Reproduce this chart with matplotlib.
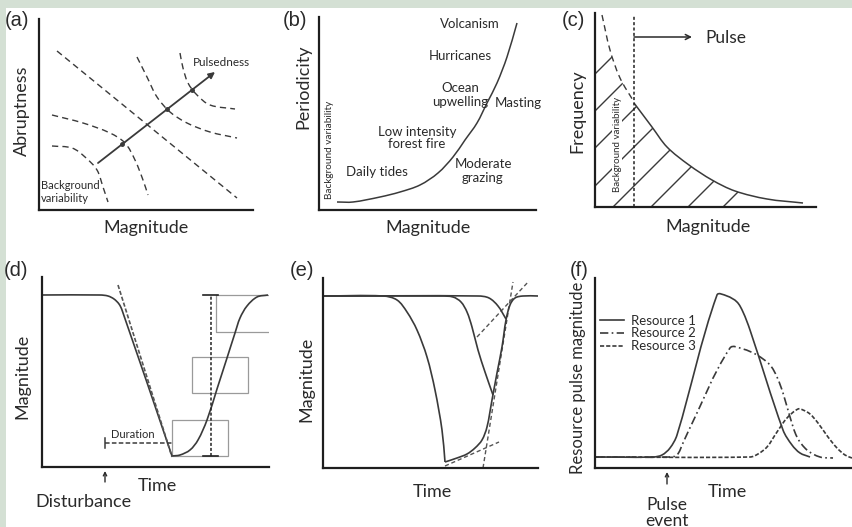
import numpy as np
import matplotlib
matplotlib.use("Agg")
import matplotlib.pyplot as plt
from matplotlib.path import Path
from matplotlib.patches import PathPatch, Rectangle
from matplotlib.lines import Line2D

# ---------------- data (each panel in its own units) ----------------
# (a) iso-pulsedness contours and pulsedness arrow
a_iso_1 = [(18, 159), (198, 12)]
a_iso_2 = [(13, 95), (44, 87), (71, 77), (86, 67), (96, 50), (104, 30), (109, 15)]
a_iso_3 = [(13, 64), (33, 62), (46, 53), (58, 40), (64, 23), (69, 8)]
a_iso_4 = [(98, 153), (108, 133), (118, 113), (131, 98), (148, 87), (171, 78), (198, 72)]
a_iso_5 = [(141, 157), (144, 142), (149, 127), (158, 115), (171, 105), (196, 101)]
a_arrow_start = (59, 47)
a_arrow_end = (176, 138)
a_dots_x = [83, 128, 153]
a_dots_y = [66, 101, 120]

# (b) periodicity vs magnitude curve and event labels
b_curve = [(18, 8), (34, 8), (61, 13), (81, 18), (101, 25), (119, 37), (134, 53),
           (146, 70), (158, 87), (168, 107), (178, 127), (188, 153), (198, 187)]
b_events = ["Volcanism", "Hurricanes", "Ocean\nupwelling", "Masting",
            "Low intensity\nforest fire", "Daily tides", "Moderate\ngrazing"]
b_event_x = [151, 141, 141, 199, 98, 58, 164]
b_event_y = [186, 154, 115, 107, 72, 38, 39]

# (c) frequency-magnitude distribution
c_background = [(7, 192), (15, 157), (25, 129), (39, 105)]
c_pulse = [(39, 104), (57, 80), (72, 60), (94, 42), (117, 27), (140, 16), (172, 8), (208, 4)]
c_threshold = 39
c_threshold_top = 192
c_hatch_offsets = [-133, -96, -59, -21, 18, 56, 93, 128]

# (d) disturbance trajectory
d_fall = [(0, 172), (58, 172), (66, 171), (72, 168), (77, 163), (80, 157), (130, 11)]
d_rise = [(130, 11), (138, 12), (148, 17), (156, 27), (165, 47), (175, 78), (185, 109),
          (193, 134), (198, 149), (205, 161), (215, 170), (226, 172)]
d_tangent = [(76, 182), (130, 10)]
d_duration = [(63, 24), (130, 24)]
d_amp_x = 169
d_amp_range = (11, 172)
d_boxes = [(130, 11, 56, 36), (150, 74, 56, 36)]   # x, y, w, h
d_bracket = [(226, 172), (174, 172), (174, 135), (226, 135)]
d_disturbance_x = 63

# (e) three declines sharing one recovery
e_decline_1 = [(0, 172), (60, 172), (74, 168), (84, 156), (94, 138), (104, 111),
               (112, 78), (119, 38), (122, 6)]
e_recovery = [(122, 6), (134, 10), (144, 14), (152, 20), (159, 28), (164, 41), (169, 68),
              (174, 95), (179, 121), (183, 148), (187, 163), (192, 170), (200, 172), (215, 172)]
e_decline_2 = [(0, 172), (118, 172), (130, 171), (138, 166), (144, 156), (149, 141),
               (155, 118), (162, 96), (170, 73)]
e_decline_3 = [(0, 172), (155, 172), (166, 170), (175, 162), (183, 149)]
e_tangents = [[(122, 2), (176, 26)], [(160, 0), (190, 186)], [(154, 131), (206, 187)]]

# (f) resource pulses
f_labels = ["Resource 1", "Resource 2", "Resource 3"]
f_r1 = [(0, 11), (58, 11), (67, 13), (75, 20), (82, 33), (122, 173), (132, 172), (142, 166),
        (148, 156), (155, 138), (188, 38), (197, 23), (205, 15), (215, 11)]
f_r2 = [(0, 11), (75, 11), (82, 13), (88, 25), (93, 36), (135, 120), (148, 119), (162, 113),
        (175, 103), (182, 91), (188, 75), (195, 51), (202, 31), (212, 18), (225, 11), (238, 10)]
f_r3 = [(0, 11), (155, 11), (163, 14), (172, 21), (182, 36), (192, 50), (203, 59), (208, 58),
        (215, 54), (223, 45), (233, 31), (242, 20), (250, 13), (257, 10)]
f_pulse_x = 72

# ---------------- layout ----------------
W, H = 852, 527
plt.rcParams['font.family'] = ['Lato', 'DejaVu Sans']
INK = '#2a2a2a'
LINE = '#3a3a3a'

fig = plt.figure(figsize=(W / 100, H / 100), dpi=100, facecolor='white')

# light green page border (top and left)
fig.patches.append(Rectangle((0, 1 - 8 / H), 1, 8 / H, transform=fig.transFigure,
                             fc='#d4e0d4', ec='none', zorder=0))
fig.patches.append(Rectangle((0, 0), 6 / W, 1, transform=fig.transFigure,
                             fc='#d4e0d4', ec='none', zorder=0))

PANELS = {
    'a': (39, 19, 253, 210),
    'b': (319, 17, 536, 210),
    'c': (595, 13, 816, 207),
    'd': (42, 277, 269, 467),
    'e': (323, 278, 538, 468),
    'f': (595, 278, 852, 468),
}


def make_ax(key):
    l, t, r, b = PANELS[key]
    ax = fig.add_axes([l / W, 1 - b / H, (r - l) / W, (b - t) / H])
    ax.set_xlim(0, r - l)
    ax.set_ylim(0, b - t)
    ax.patch.set_visible(False)
    for s in ('top', 'right'):
        ax.spines[s].set_visible(False)
    for s in ('left', 'bottom'):
        ax.spines[s].set_linewidth(1.6)
        ax.spines[s].set_color('#1e1e1e')
    ax.set_xticks([])
    ax.set_yticks([])
    return ax


def smooth(pts):
    p = np.asarray(pts, float)
    n = len(p)
    if n == 2:
        return Path(p, [Path.MOVETO, Path.LINETO])
    tang = np.zeros_like(p)
    tang[0] = p[1] - p[0]
    tang[-1] = p[-1] - p[-2]
    tang[1:-1] = p[2:] - p[:-2]
    tang /= np.linalg.norm(tang, axis=1)[:, None]
    verts = [p[0]]
    codes = [Path.MOVETO]
    for i in range(n - 1):
        d = np.linalg.norm(p[i + 1] - p[i]) / 3
        verts += [p[i] + tang[i] * d, p[i + 1] - tang[i + 1] * d, p[i + 1]]
        codes += [Path.CURVE4] * 3
    return Path(verts, codes)


def curve(ax, pts, ls='-', lw=1.1, color=LINE, zorder=2):
    ax.add_patch(PathPatch(smooth(pts), fill=False, ls=ls, lw=lw, ec=color,
                           zorder=zorder, capstyle='butt', joinstyle='round'))


def ftext(px, py, s, **kw):
    kw.setdefault('color', INK)
    kw.setdefault('ha', 'center')
    kw.setdefault('va', 'center')
    fig.text(px / W, 1 - py / H, s, **kw)


def panel_label(px, py, s):
    ftext(px, py, s, ha='left', family=['Liberation Sans', 'DejaVu Sans'], fontsize=14.5)


DASH = (0, (4.5, 3))

# ---------------- (a) ----------------
ax = make_ax('a')
for iso in (a_iso_1, a_iso_2, a_iso_3, a_iso_4, a_iso_5):
    curve(ax, iso, ls=DASH, lw=1.0)
ax.annotate('', xy=a_arrow_end, xytext=a_arrow_start,
            arrowprops=dict(arrowstyle='-|>', lw=1.3, color=LINE, mutation_scale=9,
                            shrinkA=0, shrinkB=0))
ax.plot(a_dots_x, a_dots_y, 'o', ms=2.5, color=LINE)
ax.text(154, 147, 'Pulsedness', fontsize=8.5, ha='left', va='center', color=INK)
ax.text(2, 18, 'Background\nvariability', fontsize=8, ha='left', va='center',
        color=INK, linespacing=1.25)
panel_label(5, 21, '(a)')
ftext(22, 111, 'Abruptness', rotation=90, fontsize=13)
ftext(146, 228, 'Magnitude', fontsize=13)

# ---------------- (b) ----------------
ax = make_ax('b')
curve(ax, b_curve, lw=1.1)
for s, x, y in zip(b_events, b_event_x, b_event_y):
    ax.text(x, y, s, fontsize=9.5, ha='center', va='center', color=INK, linespacing=1.1)
ax.text(10, 60, 'Background variability', rotation=90, fontsize=7.2, ha='center',
        va='center', color=INK)
panel_label(283, 21, '(b)')
ftext(303, 87, 'Periodicity', rotation=90, fontsize=13)
ftext(428, 228, 'Magnitude', fontsize=13)

# ---------------- (c) ----------------
ax = make_ax('c')
curve(ax, c_background, ls=DASH, lw=1.0)
curve(ax, c_pulse, lw=1.1)
pb = smooth(c_background)
pp = smooth(c_pulse)
verts = ([(0, 0), (0, c_background[0][1]), c_background[0]] + list(pb.vertices[1:]) +
         [c_pulse[0]] + list(pp.vertices[1:]) + [(c_pulse[-1][0], 0), (0, 0)])
codes = ([Path.MOVETO, Path.LINETO, Path.LINETO] + list(pb.codes[1:]) + [Path.LINETO] +
         list(pp.codes[1:]) + [Path.LINETO, Path.CLOSEPOLY])
clip = Path(verts, codes)
for c in c_hatch_offsets:
    ln, = ax.plot([c - 300, c + 300], [-300, 300], color=LINE, lw=1.0)
    ln.set_clip_path(clip, ax.transData)
ax.plot([c_threshold, c_threshold], [0, c_threshold_top], ls=(0, (2, 1.5)), color='#222', lw=1.1)
ax.annotate('', xy=(97, 170), xytext=(c_threshold, 170),
            arrowprops=dict(arrowstyle='->', lw=1.1, color=INK, shrinkA=0, shrinkB=0,
                            mutation_scale=9))
ax.text(110, 169, 'Pulse', fontsize=12.5, ha='left', va='center', color=INK)
ax.text(22, 63, 'Background variability', rotation=90, fontsize=7, ha='center',
        va='center', color=INK, zorder=4,
        bbox=dict(fc='white', ec='none', pad=0.6))
panel_label(562, 20, '(c)')
ftext(577, 111, 'Frequency', rotation=90, fontsize=13)
ftext(708, 227, 'Magnitude', fontsize=13)

# ---------------- (d) ----------------
ax = make_ax('d')
for (x, y, w, h) in d_boxes:
    ax.add_patch(Rectangle((x, y), w, h, fill=False, ec='#9a9a9a', lw=0.9, zorder=1))
bx, by = zip(*d_bracket)
ax.plot(bx, by, color='#9a9a9a', lw=0.9, zorder=1)
curve(ax, d_fall, lw=1.2)
curve(ax, d_rise, lw=1.2)
tx, ty = zip(*d_tangent)
ax.plot(tx, ty, ls=(0, (2.5, 1.2)), color='#555', lw=1.2)
dx, dy = zip(*d_duration)
ax.plot(dx, dy, ls=(0, (3, 1.5)), color=LINE, lw=1.1)
ax.plot([d_duration[0][0]] * 2, [d_duration[0][1] - 5, d_duration[0][1] + 5], color=LINE, lw=1.1)
ax.text(91, 33, 'Duration', fontsize=8, ha='center', va='center', color=INK)
ax.plot([d_amp_x, d_amp_x], d_amp_range, ls=(0, (2, 1.3)), color='#222', lw=1.1)
for yv in d_amp_range:
    ax.plot([d_amp_x - 8, d_amp_x + 7], [yv, yv], color='#222', lw=1.2)
ax.annotate('', xy=(d_disturbance_x, -4), xytext=(d_disturbance_x, -15),
            annotation_clip=False,
            arrowprops=dict(arrowstyle='->', lw=1.0, color=INK, shrinkA=0, shrinkB=0,
                            mutation_scale=6))
panel_label(4, 271, '(d)')
ftext(22, 376, 'Magnitude', rotation=90, fontsize=13)
ftext(157, 486, 'Time', fontsize=13)
ftext(83, 502, 'Disturbance', fontsize=13)

# ---------------- (e) ----------------
ax = make_ax('e')
for seg in e_tangents:
    sx, sy = zip(*seg)
    ax.plot(sx, sy, ls=(0, (3, 2)), color='#555', lw=1.0)
curve(ax, e_decline_3, lw=1.2)
curve(ax, e_decline_2, lw=1.2)
curve(ax, e_decline_1, lw=1.2)
curve(ax, e_recovery, lw=1.2)
panel_label(290, 270, '(e)')
ftext(306, 379, 'Magnitude', rotation=90, fontsize=13)
ftext(432, 492, 'Time', fontsize=13)

# ---------------- (f) ----------------
ax = make_ax('f')
styles = ['-', (0, (5, 2, 1, 2)), (0, (2.5, 1.2))]
for pts, st in zip((f_r3, f_r2, f_r1), styles[::-1]):
    curve(ax, pts, ls=st, lw=1.2)
handles = [Line2D([], [], color=LINE, lw=1.2, ls=st) for st in styles]
ax.legend(handles, f_labels, loc='upper left', bbox_to_anchor=(0.01, 0.82), frameon=False,
          fontsize=9.5, handlelength=1.8, handletextpad=0.5, labelspacing=0.05,
          borderaxespad=0, borderpad=0.2, labelcolor=INK)
ax.annotate('', xy=(f_pulse_x, -4), xytext=(f_pulse_x, -16), annotation_clip=False,
            arrowprops=dict(arrowstyle='->', lw=1.0, color=INK, shrinkA=0, shrinkB=0,
                            mutation_scale=6))
panel_label(570, 271, '(f)')
ftext(578, 378, 'Resource pulse magnitude', rotation=90, fontsize=12)
ftext(727, 492, 'Time', fontsize=13)
ftext(667, 513, 'Pulse\nevent', fontsize=12.5, linespacing=0.95)

fig.savefig('out.png', dpi=100, facecolor='white')
